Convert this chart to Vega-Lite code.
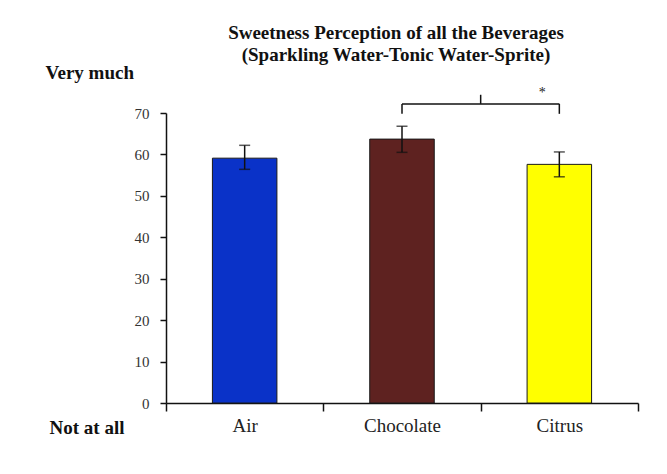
{
  "$schema": "https://vega.github.io/schema/vega-lite/v6.json",
  "width": 472,
  "height": 290,
  "autosize": {"type": "none"},
  "padding": {"left": 166, "top": 113, "right": 29, "bottom": 71},
  "background": "white",
  "config": {"view": {"stroke": null}},
  "title": {
    "text": ["Sweetness Perception of  all the Beverages", "(Sparkling Water-Tonic Water-Sprite)"],
    "font": "Liberation Serif",
    "fontSize": 19,
    "fontWeight": "bold",
    "color": "#111111",
    "anchor": "middle",
    "frame": "group",
    "baseline": "bottom",
    "lineHeight": 22,
    "offset": -21,
    "dx": -6
  },
  "datasets": {
    "bars": [
      {"cat": "Air", "mean": 59.1, "lo": 56.4, "hi": 62.2},
      {"cat": "Chocolate", "mean": 63.7, "lo": 60.5, "hi": 66.8},
      {"cat": "Citrus", "mean": 57.6, "lo": 54.6, "hi": 60.6}
    ],
    "bracketH": [{"a": "Chocolate", "b": "Citrus", "y": 72.2}],
    "bracketV": [
      {"a": "Chocolate", "y": 69.8, "y2": 72.2},
      {"a": "Citrus", "y": 69.8, "y2": 72.2}
    ],
    "bracketMid": [{"a": "Chocolate", "y": 72.2, "y2": 74.4}],
    "sig": [{"a": "Citrus", "y": 74.8, "label": "*"}]
  },
  "layer": [
    {
      "data": {"name": "bars"},
      "mark": {"type": "bar", "width": {"band": 0.41}, "stroke": "#1a1a1a", "strokeWidth": 1},
      "encoding": {
        "x": {
          "field": "cat",
          "type": "nominal",
          "scale": {"domain": ["Air", "Chocolate", "Citrus"], "paddingInner": 0, "paddingOuter": 0},
          "axis": {
            "title": "Not at all",
            "titleX": -117,
            "titleY": 24,
            "titleAlign": "left",
            "titleBaseline": "middle",
            "titleFont": "Liberation Serif",
            "titleFontSize": 19,
            "titleFontWeight": "bold",
            "titleColor": "#111111",
            "labelFont": "Liberation Serif",
            "labelFontSize": 19,
            "labelColor": "#222222",
            "labelAngle": 0,
            "labelPadding": 5,
            "tickBand": "extent",
            "tickSize": 8,
            "tickWidth": 1.5,
            "tickColor": "#111111",
            "domainColor": "#111111",
            "domainWidth": 1.5
          }
        },
        "y": {
          "field": "mean",
          "type": "quantitative",
          "scale": {"domain": [0, 70], "nice": false},
          "axis": {
            "title": "Very much",
            "titleAngle": 0,
            "titleX": -121,
            "titleY": -41,
            "titleAlign": "left",
            "titleBaseline": "middle",
            "titleFont": "Liberation Serif",
            "titleFontSize": 19,
            "titleFontWeight": "bold",
            "titleColor": "#111111",
            "values": [0, 10, 20, 30, 40, 50, 60, 70],
            "labelFont": "Liberation Serif",
            "labelFontSize": 15,
            "labelColor": "#333333",
            "labelPadding": 11,
            "tickSize": 6,
            "tickWidth": 1.5,
            "tickColor": "#111111",
            "domainColor": "#111111",
            "domainWidth": 1.5,
            "grid": false
          }
        },
        "color": {
          "field": "cat",
          "type": "nominal",
          "scale": {"domain": ["Air", "Chocolate", "Citrus"], "range": ["#0a32c8", "#5e2220", "#ffff00"]},
          "legend": null
        }
      }
    },
    {
      "data": {"name": "bars"},
      "mark": {"type": "rule", "color": "#111111", "strokeWidth": 1.5},
      "encoding": {
        "x": {"field": "cat", "type": "nominal"},
        "y": {"field": "lo", "type": "quantitative"},
        "y2": {"field": "hi"}
      }
    },
    {
      "data": {"name": "bars"},
      "mark": {"type": "tick", "color": "#111111", "thickness": 1.5, "size": 11},
      "encoding": {
        "x": {"field": "cat", "type": "nominal"},
        "y": {"field": "lo", "type": "quantitative"}
      }
    },
    {
      "data": {"name": "bars"},
      "mark": {"type": "tick", "color": "#111111", "thickness": 1.5, "size": 11},
      "encoding": {
        "x": {"field": "cat", "type": "nominal"},
        "y": {"field": "hi", "type": "quantitative"}
      }
    },
    {
      "data": {"name": "bracketH"},
      "mark": {"type": "rule", "color": "#111111", "strokeWidth": 1.5},
      "encoding": {
        "x": {"field": "a", "type": "nominal"},
        "x2": {"field": "b"},
        "y": {"field": "y", "type": "quantitative"}
      }
    },
    {
      "data": {"name": "bracketV"},
      "mark": {"type": "rule", "color": "#111111", "strokeWidth": 1.5},
      "encoding": {
        "x": {"field": "a", "type": "nominal"},
        "y": {"field": "y", "type": "quantitative"},
        "y2": {"field": "y2"}
      }
    },
    {
      "data": {"name": "bracketMid"},
      "mark": {"type": "rule", "color": "#111111", "strokeWidth": 1.5},
      "encoding": {
        "x": {"field": "a", "type": "nominal", "bandPosition": 1},
        "y": {"field": "y", "type": "quantitative"},
        "y2": {"field": "y2"}
      }
    },
    {
      "data": {"name": "sig"},
      "mark": {"type": "text", "font": "Liberation Serif", "fontSize": 14, "color": "#222222", "dx": -17, "baseline": "middle"},
      "encoding": {
        "x": {"field": "a", "type": "nominal"},
        "y": {"field": "y", "type": "quantitative"},
        "text": {"field": "label"}
      }
    }
  ]
}
